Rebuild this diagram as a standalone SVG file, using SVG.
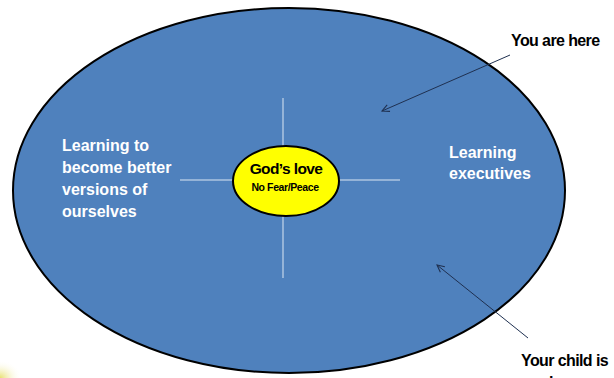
<svg xmlns="http://www.w3.org/2000/svg" width="614" height="378" viewBox="0 0 614 378">
<style>
.w{fill:#ffffff;font-family:"Liberation Sans",Arial,sans-serif;font-weight:bold;font-size:16px}
.k{fill:#000000;font-family:"Liberation Sans",Arial,sans-serif;font-weight:bold;font-size:16px;letter-spacing:-0.6px}
.cross{stroke:#dce6f2;stroke-width:1}
.arr{stroke:#1f3050;stroke-width:1;fill:none;marker-end:url(#open)}
</style>
<defs>
<marker id="open" viewBox="0 0 10 10" refX="9" refY="5" markerWidth="9" markerHeight="9" orient="auto" markerUnits="userSpaceOnUse">
<path d="M1,1 L9,5 L1,9" fill="none" stroke="#1f3050" stroke-width="1.2"/>
</marker>
<radialGradient id="glow" cx="0" cy="1" r="1">
<stop offset="0" stop-color="#e8e070"/>
<stop offset="1" stop-color="#ffffff" stop-opacity="0"/>
</radialGradient>
</defs>
<rect width="614" height="378" fill="#ffffff"/>
<rect x="0" y="360" width="22" height="18" fill="url(#glow)"/>
<g id="outer">
<ellipse cx="289" cy="190.5" rx="276" ry="182.5" fill="#4f81bd" stroke="#000" stroke-width="2"/>
</g>
<g id="cross">
<line class="cross" x1="283" y1="98" x2="283" y2="278"/>
<line class="cross" x1="180" y1="180" x2="400" y2="180"/>
</g>
<g id="center">
<ellipse cx="286" cy="181" rx="53" ry="35" fill="#ffff00" stroke="#000" stroke-width="2"/>
<text x="286" y="174" text-anchor="middle" font-family="Liberation Sans,Arial,sans-serif" font-weight="bold" font-size="15.5" letter-spacing="-0.6" fill="#000">God’s love</text>
<text x="285" y="191" text-anchor="middle" font-family="Liberation Sans,Arial,sans-serif" font-weight="bold" font-size="10.5" letter-spacing="-0.4" fill="#000">No Fear/Peace</text>
</g>
<g id="left-label">
<text class="w" x="62" y="151">Learning to</text>
<text class="w" x="62" y="173">become better</text>
<text class="w" x="62" y="195">versions of</text>
<text class="w" x="62" y="217">ourselves</text>
</g>
<g id="right-label">
<text class="w" x="449" y="158">Learning</text>
<text class="w" x="449" y="179">executives</text>
</g>
<g id="you-label">
<text class="k" x="511" y="46">You are here</text>
</g>
<g id="child-label">
<text class="k" x="521" y="366">Your child is</text>
<text class="k" x="549" y="388">here</text>
</g>
<g id="connectors">
<line class="arr" x1="510" y1="55" x2="382" y2="111"/>
<line class="arr" x1="528" y1="338" x2="437" y2="265"/>
</g>
</svg>
